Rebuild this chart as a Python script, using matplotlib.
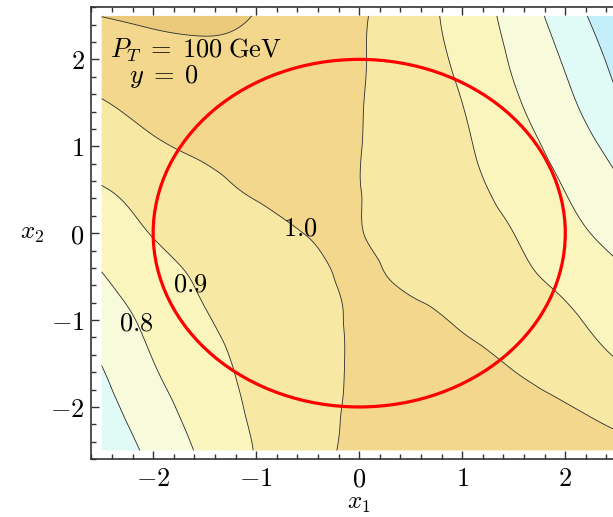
import numpy as np
import matplotlib.pyplot as plt
import matplotlib.tri as mtri
from matplotlib.patches import Circle
from matplotlib.ticker import FixedLocator, FixedFormatter, MultipleLocator

plt.rcParams['mathtext.fontset'] = 'cm'
plt.rcParams['font.family'] = ['DejaVu Serif']

# grid of the cross-section ratio in the (x1, x2) plane
x1 = [-2.5, -2.0, -1.5, -1.0, -0.5, 0.0, 0.5, 1.0, 1.5, 2.0, 2.5]
x2 = [-2.5, -2.0, -1.5, -1.0, -0.5, 0.0, 0.5, 1.0, 1.5, 2.0, 2.5]

# one row per x2 value (bottom to top), one column per x1 value
ratio = [
    [0.627, 0.725, 0.820, 0.904, 0.964, 1.024, 1.050, 1.060, 1.050, 1.030, 1.015],
    [0.665, 0.762, 0.846, 0.915, 0.966, 1.015, 1.040, 1.050, 1.035, 1.005, 0.970],
    [0.702, 0.798, 0.869, 0.925, 0.969, 1.012, 1.040, 1.030, 0.992, 0.948, 0.904],
    [0.750, 0.826, 0.893, 0.934, 0.973, 1.011, 1.025, 0.987, 0.950, 0.913, 0.874],
    [0.795, 0.861, 0.914, 0.946, 0.978, 1.010, 0.982, 0.951, 0.919, 0.878, 0.822],
    [0.843, 0.904, 0.937, 0.971, 1.002, 1.002, 0.968, 0.934, 0.900, 0.834, 0.768],
    [0.895, 0.934, 0.973, 1.008, 1.012, 1.001, 0.962, 0.923, 0.871, 0.798, 0.717],
    [0.943, 0.988, 1.016, 1.028, 1.022, 1.002, 0.958, 0.912, 0.844, 0.761, 0.668],
    [0.995, 1.029, 1.049, 1.051, 1.033, 1.004, 0.954, 0.900, 0.814, 0.722, 0.612],
    [1.048, 1.071, 1.082, 1.074, 1.043, 1.007, 0.949, 0.880, 0.788, 0.690, 0.571],
    [1.101, 1.112, 1.115, 1.097, 1.054, 1.010, 0.944, 0.863, 0.766, 0.652, 0.528],
]

band_edges = [0.4, 0.6, 0.7, 0.8, 0.9, 1.0, 1.1, 1.3]
band_colors = ['#c4eefa', '#e0faf6', '#f7fbdc', '#faf4bd',
               '#f7e8a4', '#f2d78d', '#ecca7c']
line_levels = [0.6, 0.7, 0.8, 0.9, 1.0, 1.1]

# labelled contours and where their labels sit
label_levels = [1.0, 0.9, 0.8]
label_x = [-0.57, -1.64, -2.16]
label_y = [0.06, -0.59, -1.03]

radius = 2.0

# smooth the coarse grid with matplotlib's cubic triangulation refiner
gx, gy = np.meshgrid(x1, x2)
z = np.ravel(ratio)
tri = mtri.Triangulation(gx.ravel(), gy.ravel())
interp = mtri.CubicTriInterpolator(tri, z, kind='min_E')
tri_fine, z_fine = mtri.UniformTriRefiner(tri).refine_field(z, triinterpolator=interp, subdiv=4)

fig = plt.figure(figsize=(6.13, 5.17), dpi=100)
ax = fig.add_axes([0.149, 0.112, 0.874, 0.874])

ax.tricontourf(tri_fine, z_fine, levels=band_edges, colors=band_colors, antialiased=True)
ax.tricontour(tri_fine, z_fine, levels=line_levels, colors='#2b2b2b', linewidths=0.6)

for lvl, lx, ly in zip(label_levels, label_x, label_y):
    ax.text(lx, ly, f'${lvl:.1f}$', ha='center', va='center', fontsize=19)

ax.add_patch(Circle((0, 0), radius, fill=False, edgecolor='#ff0000', linewidth=2.3, zorder=5))

ax.text(-2.42, 2.10, r'$P_T\;=\;100\;\mathrm{GeV}$', ha='left', va='center', fontsize=19)
ax.text(-2.23, 1.80, r'$y\;=\;0$', ha='left', va='center', fontsize=19)

ax.set_xlim(-2.6, 2.6)
ax.set_ylim(-2.6, 2.6)

major = [-2, -1, 0, 1, 2]
major_lbl = ['$-2$', '$-1$', '$0$', '$1$', '$2$']
for axis in (ax.xaxis, ax.yaxis):
    axis.set_major_locator(FixedLocator(major))
    axis.set_major_formatter(FixedFormatter(major_lbl))
    axis.set_minor_locator(MultipleLocator(0.2))

ax.tick_params(which='both', direction='in', top=True, right=True, colors='#333333',
               labelcolor='black', labelsize=19, width=1.0)
ax.tick_params(which='major', length=6, pad=5)
ax.tick_params(which='minor', length=3.5)
for sp in ax.spines.values():
    sp.set_color('#333333')
    sp.set_linewidth(1.2)

ax.set_xlabel('$x_1$', fontsize=18, labelpad=1)
ax.set_ylabel('$x_2$', fontsize=18, rotation=0, labelpad=13, va='center')

fig.savefig('out.png', dpi=100)
